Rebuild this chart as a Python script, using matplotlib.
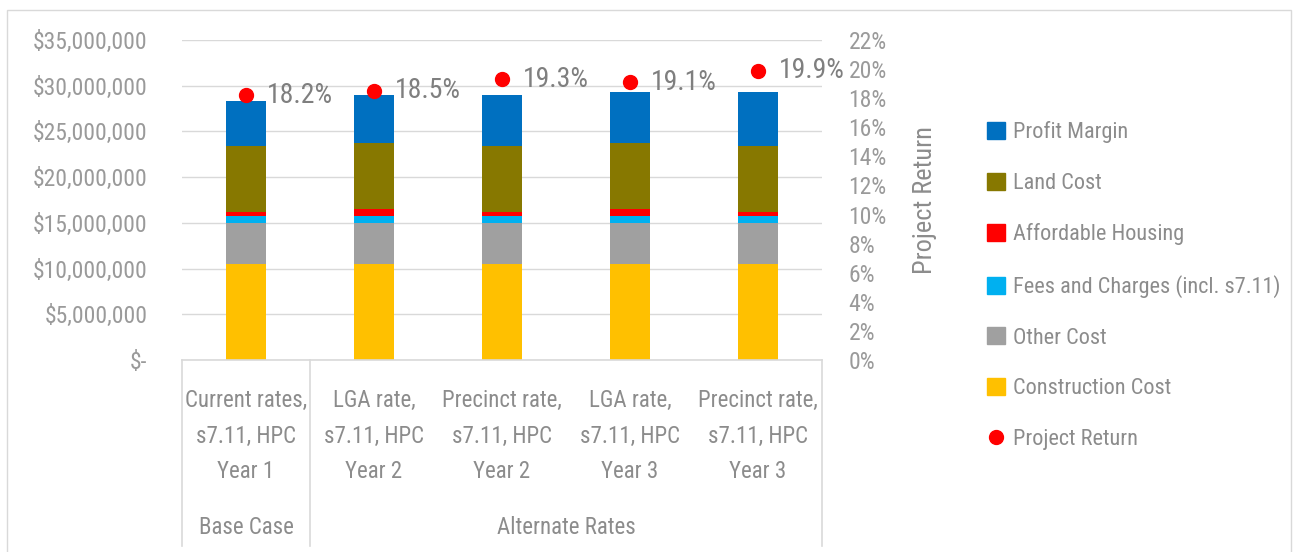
import matplotlib
matplotlib.use("Agg")
import matplotlib.pyplot as plt
from matplotlib import font_manager as fm
from matplotlib.patches import Patch, Rectangle
from matplotlib.lines import Line2D
from matplotlib.ticker import FuncFormatter, MultipleLocator
import numpy as np

# ---------------- data ----------------
categories = [
    "Current rates,\ns7.11, HPC\nYear 1",
    "LGA rate,\ns7.11, HPC\nYear 2",
    "Precinct rate,\ns7.11, HPC\nYear 2",
    "LGA rate,\ns7.11, HPC\nYear 3",
    "Precinct rate,\ns7.11, HPC\nYear 3",
]
groups = ["Base Case", "Alternate Rates"]
group_sizes = [1, 4]

construction_cost = [10480000, 10480000, 10480000, 10480000, 10480000]
other_cost = [4550000, 4550000, 4550000, 4550000, 4550000]
fees_charges = [720000, 720000, 720000, 720000, 720000]
affordable_housing = [480000, 770000, 480000, 770000, 480000]
land_cost = [7210000, 7200000, 7210000, 7240000, 7210000]
profit_margin = [4940000, 5250000, 5530000, 5500000, 5820000]
project_return = [0.182, 0.185, 0.193, 0.191, 0.199]

series_names = ["Construction Cost", "Other Cost", "Fees and Charges (incl. s7.11)",
                "Affordable Housing", "Land Cost", "Profit Margin"]
series_values = [construction_cost, other_cost, fees_charges,
                 affordable_housing, land_cost, profit_margin]
series_colors = ["#FFC000", "#A0A0A0", "#00B0F0", "#FF0000", "#877800", "#0070C0"]

# ---------------- fonts ----------------
avail = {f.name for f in fm.fontManager.ttflist}
font_kw = {}
for cand in ["Roboto Condensed", "Liberation Sans Narrow", "DejaVu Sans Condensed",
             "Open Sans Condensed", "Noto Sans Condensed"]:
    if cand in avail:
        font_kw = {"family": cand}
        break
if not font_kw:
    font_kw = {"family": "DejaVu Sans", "stretch": "condensed"}
plt.rcParams["font.family"] = font_kw["family"]
if "stretch" in font_kw:
    plt.rcParams["font.stretch"] = "condensed"

TXT = "#8C8C8C"
TICK = "#9A9A9A"
GRID = "#D9D9D9"

W, H = 1293, 552
fig = plt.figure(figsize=(W / 100, H / 100), dpi=100)

def fx(px):
    return px / W

def fy(py):
    return 1 - py / H

ax_left, ax_right, ax_top, ax_bot = 182, 822, 40, 360
ax = fig.add_axes([fx(ax_left), fy(ax_bot), fx(ax_right - ax_left), (ax_bot - ax_top) / H])
ax2 = ax.twinx()

x = np.arange(len(categories))
bottom = np.zeros(len(categories))
for name, vals, col in zip(series_names, series_values, series_colors):
    ax.bar(x, vals, width=0.31, bottom=bottom, color=col, label=name, zorder=3)
    bottom += np.array(vals)

ax.set_xlim(-0.5, len(categories) - 0.5)
ax.set_ylim(0, 35000000)
ax.yaxis.set_major_locator(MultipleLocator(5000000))
ax.yaxis.set_major_formatter(FuncFormatter(lambda v, p: "$-" if v == 0 else "${:,.0f}".format(v)))
ax.grid(axis="y", color=GRID, lw=1, zorder=0)
ax.set_axisbelow(True)
ax.set_xticks([])
ax.tick_params(axis="y", length=0, pad=25, labelsize=17, labelcolor=TICK)
for s in ax.spines.values():
    s.set_visible(False)

ax2.plot(x, project_return, "o", color="#FF0000", markersize=10, zorder=5, clip_on=False)
ax2.set_ylim(0, 0.22)
ax2.yaxis.set_major_locator(MultipleLocator(0.02))
ax2.yaxis.set_major_formatter(FuncFormatter(lambda v, p: "{:.0f}%".format(v * 100)))
ax2.tick_params(axis="y", length=0, pad=19, labelsize=17, labelcolor=TICK)
for s in ax2.spines.values():
    s.set_visible(False)
for xi, r in zip(x, project_return):
    ax2.annotate("{:.1f}%".format(r * 100), (xi, r), xytext=(15, 0), textcoords="offset points",
                 ha="left", va="center", fontsize=20, color="#7F7F7F")

fig.text(fx(925), fy(200), "Project Return", rotation=90, ha="center", va="center",
         fontsize=19, color=TXT)

# category axis box
line_kw = dict(color=GRID, lw=1.2, transform=fig.transFigure)
fig.add_artist(Line2D([fx(ax_left), fx(ax_right)], [fy(ax_bot), fy(ax_bot)], **line_kw))
band = (ax_right - ax_left) / len(categories)
edges = [0] + list(np.cumsum(group_sizes))
for e in edges:
    xp = ax_left + e * band
    fig.add_artist(Line2D([fx(xp), fx(xp)], [fy(ax_bot), fy(546)], **line_kw))

for i, cat in enumerate(categories):
    xc = ax_left + (i + 0.5) * band
    for j, ln in enumerate(cat.split("\n")):
        fig.text(fx(xc), fy(400 + 36 * j), ln, ha="center", va="center", fontsize=16.5, color=TXT)
for g, a, b in zip(groups, edges[:-1], edges[1:]):
    xc = ax_left + (a + b) / 2 * band
    fig.text(fx(xc), fy(527), g, ha="center", va="center", fontsize=16.5, color=TXT)

# legend
handles = [Patch(color=c, label=n) for n, c in zip(series_names[::-1], series_colors[::-1])]
handles.append(Line2D([], [], marker="o", color="#FF0000", linestyle="none", markersize=10,
                      label="Project Return"))
leg = fig.legend(handles=handles, loc="upper left", bbox_to_anchor=(fx(987), fy(121)),
                 frameon=False, fontsize=16, labelcolor=TXT, handlelength=0.8,
                 handleheight=0.8, handletextpad=0.35, labelspacing=1.33, borderpad=0,
                 borderaxespad=0)

# chart border
fig.add_artist(Rectangle((fx(7), fy(560)), fx(1291 - 7), (560 - 10) / H, fill=False,
                         edgecolor=GRID, lw=1, transform=fig.transFigure))

fig.savefig("out.png", dpi=100)
